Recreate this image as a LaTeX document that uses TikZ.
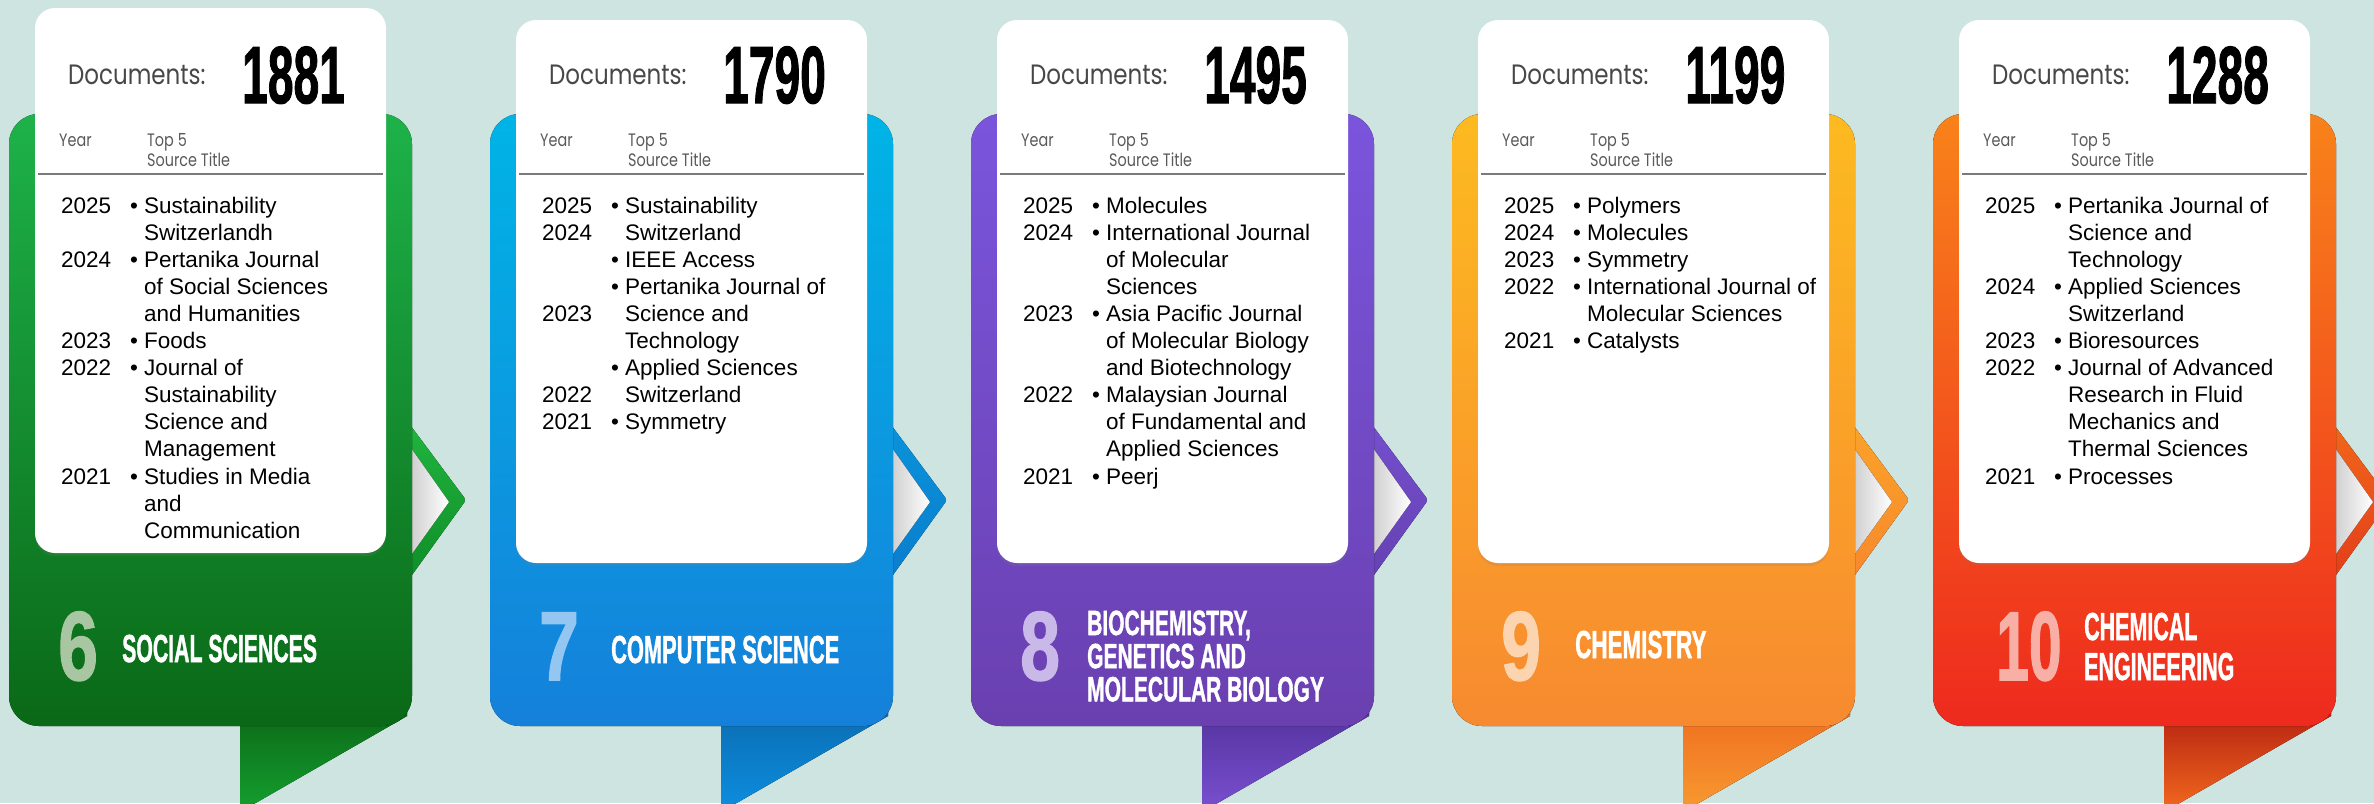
\documentclass[tikz,border=0pt]{standalone}
\usepackage{fontspec}
\usepackage{graphicx}
\setmainfont{Liberation Sans}
\newfontfamily\gfont{Poppins}
\newfontfamily\heavyfont{Liberation Sans}[BoldFeatures={FakeBold=1.6}]
\usetikzlibrary{shadows}
\definecolor{bg}{HTML}{CDE4E1}
\definecolor{docgray}{HTML}{474747}
\definecolor{hdrgray}{HTML}{5A5A5A}
\definecolor{linegray}{HTML}{7A7A7A}
% body colours
\definecolor{bodytop1}{HTML}{1EB24A}\definecolor{bodybot1}{HTML}{0A6816}
\definecolor{bodytop2}{HTML}{00B4E6}\definecolor{bodybot2}{HTML}{1580DA}
\definecolor{bodytop3}{HTML}{7A55DC}\definecolor{bodybot3}{HTML}{6A40B0}
\definecolor{bodytop4}{HTML}{FDBA20}\definecolor{bodybot4}{HTML}{F78A30}
\definecolor{bodytop5}{HTML}{F8821A}\definecolor{bodybot5}{HTML}{EE2A1E}
% tab colours
\definecolor{tabtop1}{HTML}{0B6414}\definecolor{tabbot1}{HTML}{14A030}
\definecolor{tabtop2}{HTML}{0A6AAE}\definecolor{tabbot2}{HTML}{0D8EE0}
\definecolor{tabtop3}{HTML}{50309A}\definecolor{tabbot3}{HTML}{7A50D0}
\definecolor{tabtop4}{HTML}{EE6A1E}\definecolor{tabbot4}{HTML}{F89A30}
\definecolor{tabtop5}{HTML}{B01A10}\definecolor{tabbot5}{HTML}{F26A1E}
% chevron colours
\definecolor{chtop1}{HTML}{22B840}\definecolor{chbot1}{HTML}{0E8A26}
\definecolor{chtop2}{HTML}{0A94DC}\definecolor{chbot2}{HTML}{0A7CCC}
\definecolor{chtop3}{HTML}{7650D0}\definecolor{chbot3}{HTML}{6440B0}
\definecolor{chtop4}{HTML}{FBA528}\definecolor{chbot4}{HTML}{F7862E}
\definecolor{chtop5}{HTML}{F26A1A}\definecolor{chbot5}{HTML}{E23A1A}
% pale category digits
\definecolor{pale1}{HTML}{A9C6A2}
\definecolor{pale2}{HTML}{94C6F2}
\definecolor{pale3}{HTML}{C9B9E8}
\definecolor{pale4}{HTML}{FCD4B0}
\definecolor{pale5}{HTML}{F7AFA6}
\newcommand\cond[2][0.56]{\scalebox{#1}[1]{#2}}
\begin{document}
\begin{tikzpicture}[x=1pt,y=-1pt,
  docs/.style={font=\gfont\fontsize{28}{30}\selectfont, text=docgray, inner sep=0pt, anchor=base west},
  hdr/.style={font=\gfont\fontsize{18}{20}\selectfont, text=hdrgray, inner sep=0pt, anchor=base west},
  bignum/.style={font=\heavyfont\bfseries\fontsize{81}{81}\selectfont, text=black, inner sep=0pt, anchor=base west},
  listtxt/.style={font=\fontsize{22.5}{27.1}\selectfont, text=black, inner sep=0pt, anchor=base west},
  catnum/.style={font=\heavyfont\bfseries\fontsize{98}{98}\selectfont, inner sep=0pt, anchor=base west},
  cattxt/.style={font=\heavyfont\bfseries\fontsize{39}{40}\selectfont, text=white, inner sep=0pt, anchor=base west},
  cattxtsm/.style={font=\heavyfont\bfseries\fontsize{35}{29}\selectfont, text=white, inner sep=0pt, anchor=base west},
  card/.style={fill=white, rounded corners=20pt, drop shadow={opacity=0.18, shadow xshift=0pt, shadow yshift=-3pt}},
]
\fill[bg] (0,0) rectangle (2374,803);
\useasboundingbox (0,0) rectangle (2374,803);
\clip (0,0) rectangle (2374,803);

\foreach \i/\ox/\ct/\cb in {1/9/8/553, 2/490/20/563, 3/971/20/563, 4/1452/20/563, 5/1933/20/563}{
  % bottom ribbon tab
  \fill[top color=tabtop\i, bottom color=tabbot\i] (\ox+231,700) -- (\ox+398,700) -- (\ox+398,716) -- (\ox+231,812) -- cycle;
  % chevron
  \fill[top color=chtop\i, bottom color=chbot\i, rounded corners=3pt] (\ox+390,410) -- (\ox+457,500) -- (\ox+390,593) -- cycle;
  \fill[left color=black!22, right color=white] (\ox+395,438) -- (\ox+440,502) -- (\ox+395,565) -- cycle;
  % body
  \fill[top color=bodytop\i, bottom color=bodybot\i, rounded corners=30pt] (\ox,114) rectangle (\ox+403,726);
  % card
  \path[card] (\ox+26,\ct) rectangle (\ox+377,\cb);
  \draw[linegray, line width=1.2pt] (\ox+29,174) -- (\ox+374,174);
  \node[docs] (docs\i) at (\ox+59,84) {\cond[0.82]{Documents:}};
  \node[hdr] (year\i) at (\ox+50,146) {\cond[0.8]{Year}};
  \node[hdr] (top\i) at (\ox+138,146) {\cond[0.8]{\begin{tabular}[t]{@{}l@{}}Top 5\\Source Title\end{tabular}}};
}

% ---------- big numbers ----------
\node[bignum] (num1) at (242,103) {\cond[0.57]{1881}};
\node[bignum] (num2) at (723,103) {\cond[0.57]{1790}};
\node[bignum] (num3) at (1204,103) {\cond[0.57]{1495}};
\node[bignum] (num4) at (1685,103) {\cond[0.57]{1199}};
\node[bignum] (num5) at (2166,103) {\cond[0.57]{1288}};

% ---------- lists ----------
\node[listtxt] (list1) at (61,213) {\begin{tabular}[t]{@{}p{69pt}@{}p{14pt}@{}l@{}}
2025 & • & Sustainability\\
 & & Switzerlandh\\
2024 & • & Pertanika Journal\\
 & & of Social Sciences\\
 & & and Humanities\\
2023 & • & Foods\\
2022 & • & Journal of\\
 & & Sustainability\\
 & & Science and\\
 & & Management\\
2021 & • & Studies in Media\\
 & & and\\
 & & Communication
\end{tabular}};

\node[listtxt] (list2) at (542,213) {\begin{tabular}[t]{@{}p{69pt}@{}p{14pt}@{}l@{}}
2025 & • & Sustainability\\
2024 & & Switzerland\\
 & • & IEEE Access\\
 & • & Pertanika Journal of\\
2023 & & Science and\\
 & & Technology\\
 & • & Applied Sciences\\
2022 & & Switzerland\\
2021 & • & Symmetry
\end{tabular}};

\node[listtxt] (list3) at (1023,213) {\begin{tabular}[t]{@{}p{69pt}@{}p{14pt}@{}l@{}}
2025 & • & Molecules\\
2024 & • & International Journal\\
 & & of Molecular\\
 & & Sciences\\
2023 & • & Asia Pacific Journal\\
 & & of Molecular Biology\\
 & & and Biotechnology\\
2022 & • & Malaysian Journal\\
 & & of Fundamental and\\
 & & Applied Sciences\\
2021 & • & Peerj
\end{tabular}};

\node[listtxt] (list4) at (1504,213) {\begin{tabular}[t]{@{}p{69pt}@{}p{14pt}@{}l@{}}
2025 & • & Polymers\\
2024 & • & Molecules\\
2023 & • & Symmetry\\
2022 & • & International Journal of\\
 & & Molecular Sciences\\
2021 & • & Catalysts
\end{tabular}};

\node[listtxt] (list5) at (1985,213) {\begin{tabular}[t]{@{}p{69pt}@{}p{14pt}@{}l@{}}
2025 & • & Pertanika Journal of\\
 & & Science and\\
 & & Technology\\
2024 & • & Applied Sciences\\
 & & Switzerland\\
2023 & • & Bioresources\\
2022 & • & Journal of Advanced\\
 & & Research in Fluid\\
 & & Mechanics and\\
 & & Thermal Sciences\\
2021 & • & Processes
\end{tabular}};

% ---------- category labels ----------
\node[catnum, text=pale1] (cn1) at (58,680) {\cond[0.73]{6}};
\node[cattxt] (ct1) at (122,662) {\cond[0.545]{SOCIAL SCIENCES}};

\node[catnum, text=pale2] (cn2) at (539,680) {\cond[0.73]{7}};
\node[cattxt] (ct2) at (611,663) {\cond[0.56]{COMPUTER SCIENCE}};

\node[catnum, text=pale3] (cn3) at (1020,680) {\cond[0.73]{8}};
\node[cattxtsm] (ct3) at (1087,635) {\cond[0.6]{\begin{tabular}[t]{@{}l@{}}BIOCHEMISTRY,\\GENETICS AND\\MOLECULAR BIOLOGY\end{tabular}}};

\node[catnum, text=pale4] (cn4) at (1501,680) {\cond[0.73]{9}};
\node[cattxt] (ct4) at (1575,658) {\cond[0.575]{CHEMISTRY}};

\node[catnum, text=pale5] (cn5) at (1996,680) {\cond[0.6]{10}};
\node[cattxt] (ct5) at (2084,640) {\cond[0.55]{\begin{tabular}[t]{@{}l@{}}CHEMICAL\\ENGINEERING\end{tabular}}};
\end{tikzpicture}
\end{document}
